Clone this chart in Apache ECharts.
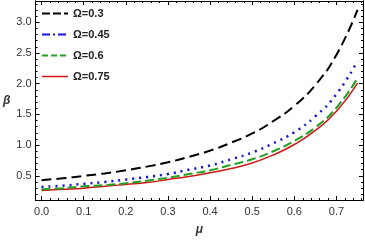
<!DOCTYPE html>
<html><head><meta charset="utf-8">
<script src="https://cdn.jsdelivr.net/npm/echarts@6/dist/echarts.min.js"></script>
<style>html,body{margin:0;padding:0;background:#fff}#c{width:365px;height:241px}</style>
</head><body><div id="c"></div>
<script>
const mu = [0, 0.05, 0.1, 0.15, 0.2, 0.25, 0.3, 0.35, 0.4, 0.45, 0.5, 0.55, 0.6, 0.65, 0.7, 0.75];
const omega03  = [0.43, 0.46, 0.50, 0.54, 0.59, 0.65, 0.72, 0.81, 0.91, 1.04, 1.19, 1.39, 1.64, 1.98, 2.47, 3.20];
const omega045 = [0.32, 0.34, 0.37, 0.40, 0.44, 0.48, 0.53, 0.60, 0.67, 0.77, 0.88, 1.03, 1.21, 1.47, 1.83, 2.37];
const omega06  = [0.28, 0.30, 0.33, 0.35, 0.38, 0.42, 0.47, 0.53, 0.59, 0.68, 0.77, 0.90, 1.07, 1.29, 1.61, 2.09];
const omega075 = [0.26, 0.28, 0.30, 0.33, 0.36, 0.39, 0.44, 0.49, 0.55, 0.62, 0.71, 0.84, 1.01, 1.24, 1.55, 2.01];
const seriesNames = ['Ω=0.3', 'Ω=0.45', 'Ω=0.6', 'Ω=0.75'];
const xMajor = [0, 0.1, 0.2, 0.3, 0.4, 0.5, 0.6, 0.7];
const xMinor = [0, 0.02, 0.04, 0.06, 0.08, 0.1, 0.12, 0.14, 0.16, 0.18, 0.2, 0.22, 0.24, 0.26, 0.28, 0.3, 0.32, 0.34, 0.36, 0.38, 0.4, 0.42, 0.44, 0.46, 0.48, 0.5, 0.52, 0.54, 0.56, 0.58, 0.6, 0.62, 0.64, 0.66, 0.68, 0.7, 0.72, 0.74, 0.76];
const yMajor = [0.5, 1.0, 1.5, 2.0, 2.5, 3.0];
const yMinor = [0.2, 0.3, 0.4, 0.5, 0.6, 0.7, 0.8, 0.9, 1.0, 1.1, 1.2, 1.3, 1.4, 1.5, 1.6, 1.7, 1.8, 1.9, 2.0, 2.1, 2.2, 2.3, 2.4, 2.5, 2.6, 2.7, 2.8, 2.9, 3.0, 3.1, 3.2, 3.3];

const XMIN = -0.014, XMAX = 0.763, YMIN = 0.107, YMAX = 3.346;
const line = {show: true, onZero: false, lineStyle: {color: '#000', width: 1}};

function xAx(pos, vals, len, labels) {
  return {
    type: 'value', position: pos, min: XMIN, max: XMAX,
    axisLine: line,
    axisTick: {show: true, inside: true, length: len, customValues: vals, lineStyle: {color: '#000', width: 1}},
    axisLabel: labels ? {show: true, customValues: xMajor, formatter: v => v.toFixed(1), fontSize: 11, color: '#333', margin: 6, fontFamily: 'Liberation Sans'} : {show: false},
    splitLine: {show: false},
    name: labels ? 'μ' : '', nameLocation: 'middle', nameGap: 24,
    nameTextStyle: {fontStyle: 'italic', fontWeight: 'bold', fontSize: 12, color: '#333', fontFamily: 'Liberation Sans'}
  };
}
function yAx(pos, vals, len, labels) {
  return {
    type: 'value', position: pos, min: YMIN, max: YMAX,
    axisLine: line,
    axisTick: {show: true, inside: true, length: len, customValues: vals, lineStyle: {color: '#000', width: 1}},
    axisLabel: labels ? {show: true, customValues: yMajor, formatter: v => v.toFixed(1), fontSize: 11, color: '#333', margin: 4, fontFamily: 'Liberation Sans'} : {show: false},
    splitLine: {show: false},
    name: labels ? 'β' : '', nameLocation: 'middle', nameGap: 19, nameRotate: 0,
    nameTextStyle: {fontStyle: 'italic', fontWeight: 'bold', fontSize: 12, color: '#333', fontFamily: 'Liberation Sans'}
  };
}

const values = [omega03, omega045, omega06, omega075];
const colors = ['#000000', '#1414d8', '#22a022', '#d01818'];
const styles = [
  {type: [10, 5], width: 2},
  {type: [2, 5], width: 2.5, cap: 'butt'},
  {type: [9, 4], width: 2},
  {type: 'solid', width: 1.5}
];
const legendStyles = [
  {type: [8, 3], width: 2},
  {type: [8, 3, 2, 3], width: 2},
  {type: [6, 3], width: 2},
  {type: 'solid', width: 1.5}
];

const series = values.map((v, i) => ({
  name: seriesNames[i], type: 'line', xAxisIndex: 0, yAxisIndex: 0,
  data: mu.map((m, j) => [m, v[j]]),
  smooth: true, symbol: 'none', showSymbol: false,
  lineStyle: Object.assign({color: colors[i]}, styles[i]),
  itemStyle: {color: colors[i]},
  z: 10 - i
}));

const chart = echarts.init(document.getElementById('c'), null, {renderer: 'canvas'});
chart.setOption({
  animation: false,
  backgroundColor: '#fff',
  grid: {left: 29, right: 2, top: 1, bottom: 34, containLabel: false},
  legend: {
    show: true, orient: 'vertical', left: 36, top: 3,
    itemWidth: 26, itemHeight: 10, itemGap: 10,
    itemStyle: {opacity: 0},
    data: seriesNames.map((n, i) => ({name: n, itemStyle: {opacity: 0}, lineStyle: Object.assign({color: colors[i]}, legendStyles[i])})),
    textStyle: {fontSize: 11, fontWeight: 'bold', color: '#222', fontFamily: 'Liberation Sans'}
  },
  xAxis: [xAx('bottom', xMajor, 4, true), xAx('bottom', xMinor, 2, false), xAx('top', xMajor, 4, false), xAx('top', xMinor, 2, false)],
  yAxis: [yAx('left', yMajor, 4, true), yAx('left', yMinor, 2, false), yAx('right', yMajor, 4, false), yAx('right', yMinor, 2, false)],
  series: series
});
</script></body></html>
